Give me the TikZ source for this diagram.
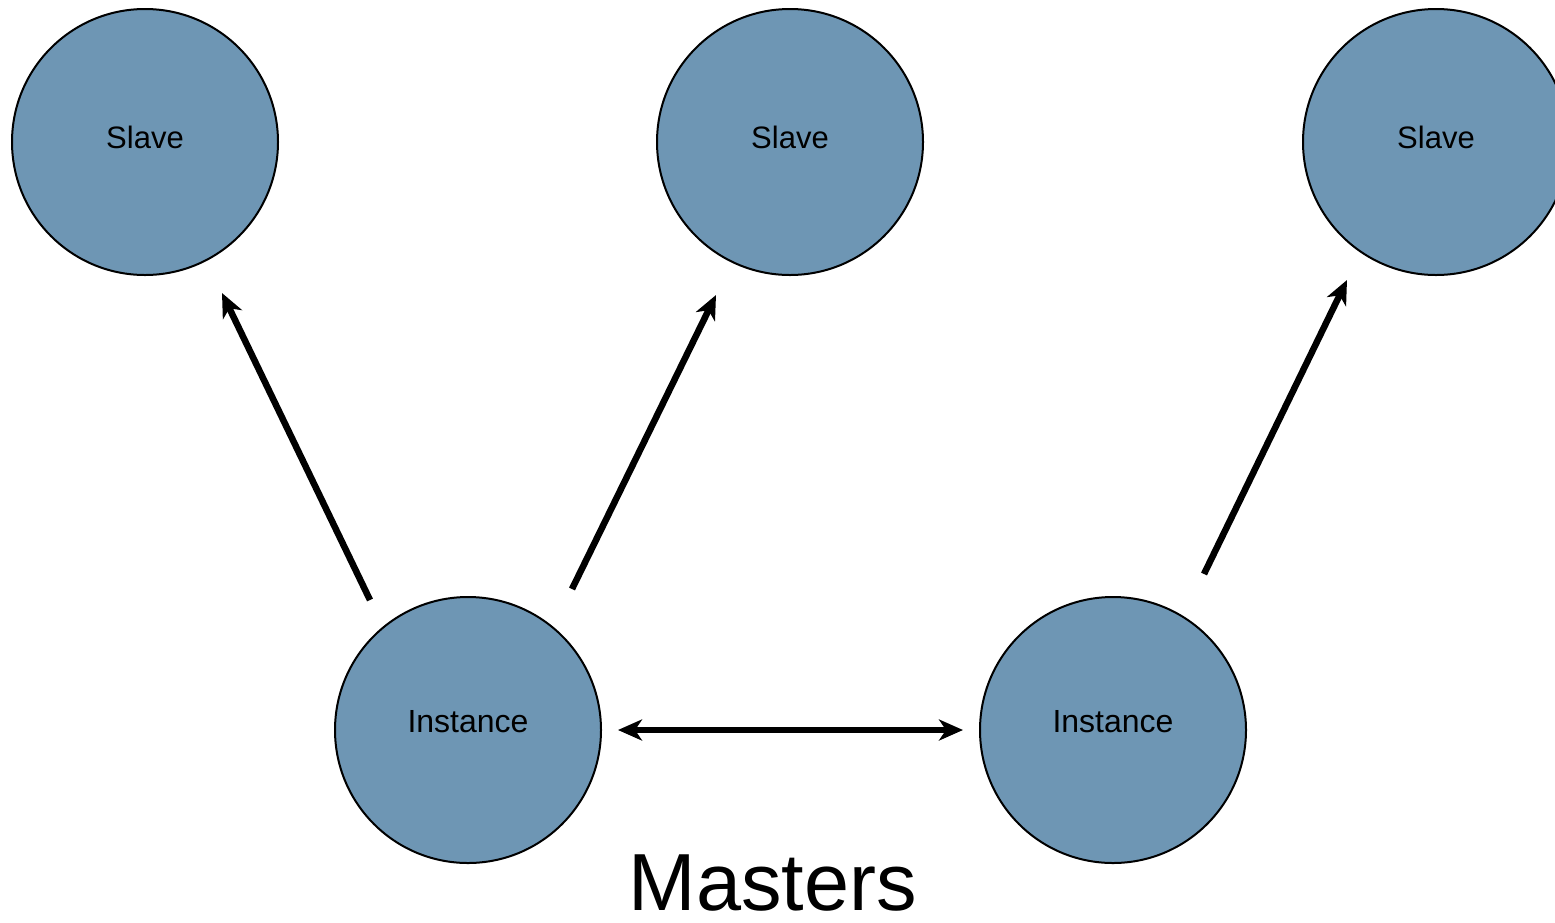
\documentclass[tikz,border=0pt]{standalone}
\usepackage{fontspec}
\setmainfont{Liberation Sans}
\usetikzlibrary{arrows.meta}
\definecolor{nodeblue}{RGB}{110,150,180}
\tikzset{arrowtip/.tip={Stealth[length=24pt,width=21pt,inset=7pt]}}
\begin{document}
\begin{tikzpicture}[x=1pt,y=-1pt,
  circ/.style={circle,draw=black,line width=2pt,fill=nodeblue,minimum size=266pt,inner sep=0pt},
  conn/.style={line width=6.5pt,-arrowtip},
  dconn/.style={line width=6pt,arrowtip-arrowtip}]
\useasboundingbox (0,0) rectangle (1555,922);
\clip (0,0) rectangle (1555,922);
\node[circ,font=\fontsize{31}{36}\selectfont] (s1) at (145,142) {\raisebox{10pt}{Slave}};
\node[circ,font=\fontsize{31}{36}\selectfont] (s2) at (790,142) {\raisebox{10pt}{Slave}};
\node[circ,font=\fontsize{31}{36}\selectfont] (s3) at (1436,142) {\raisebox{10pt}{Slave}};
\node[circ,font=\fontsize{32}{38}\selectfont] (i1) at (468,730) {\raisebox{17pt}{Instance}};
\node[circ,font=\fontsize{32}{38}\selectfont] (i2) at (1113,730) {\raisebox{17pt}{Instance}};
\node[anchor=base,font=\fontsize{81}{96}\selectfont,inner sep=0pt] (m) at (773,910) {Masters};
\draw[conn] ([shift={(-98,-130)}]i1.center) -- ([shift={(77,151)}]s1.center);
\draw[conn] ([shift={(104,-141)}]i1.center) -- ([shift={(-74,153)}]s2.center);
\draw[conn] ([shift={(91,-156)}]i2.center) -- ([shift={(-89,138)}]s3.center);
\draw[dconn] ([shift={(150,0)}]i1.center) -- ([shift={(-150,0)}]i2.center);
\end{tikzpicture}
\end{document}
